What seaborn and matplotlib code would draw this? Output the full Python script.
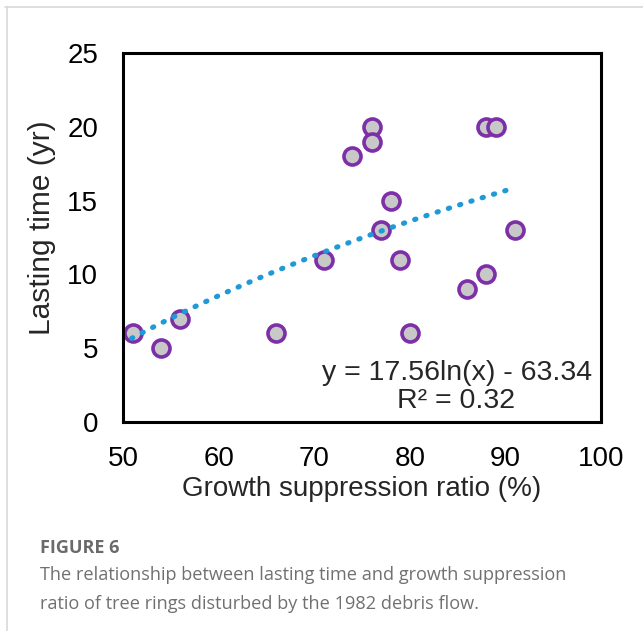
import numpy as np
import pandas as pd
import matplotlib.pyplot as plt
import seaborn as sns
from matplotlib.lines import Line2D

# valores
suppression = [51, 54, 56, 66, 71, 74, 76, 76, 77, 78, 79, 80, 86, 88, 88, 89, 91]
lasting = [6, 5, 7, 6, 11, 18, 20, 19, 13, 15, 11, 6, 9, 10, 20, 20, 13]
coef_a = 17.56
coef_b = -63.34
r2 = 0.32
xticks = [50, 60, 70, 80, 90, 100]
yticks = [0, 5, 10, 15, 20, 25]


def main():
    sns.set_style('white')
    plt.rcParams['font.family'] = ['Liberation Sans', 'DejaVu Sans']

    df = pd.DataFrame({'ratio': suppression, 'tempo': lasting})

    fig = plt.figure(figsize=(6.43, 6.31), dpi=100)
    ax = fig.add_axes([0.1913, 0.3312, 0.7434, 0.5848])

    # linha de tendencia logaritmica
    xt = np.linspace(min(suppression) - 0.1, 90.4, 200)
    yt = coef_a * np.log(xt) + coef_b
    ax.plot(xt, yt, color='#1f9ad6', lw=3.7, ls=(0, (0.25, 2.05)),
            dash_capstyle='round', zorder=3)

    sns.scatterplot(x='ratio', y='tempo', data=df, ax=ax, s=150,
                    color='#c8c8c8', edgecolor='#7d2fa8', linewidth=2.6,
                    zorder=2)

    ax.set_xlim(50, 100)
    ax.set_ylim(0, 25)
    ax.set_xticks(xticks)
    ax.set_yticks(yticks)
    ax.tick_params(direction='in', length=7, width=2, labelsize=20,
                   colors='black', pad=17)
    ax.tick_params(axis='y', pad=18)
    for sp in ax.spines.values():
        sp.set_linewidth(2.2)
        sp.set_color('black')
        sp.set_visible(True)

    ax.set_xlabel('Growth suppression ratio (%)', fontsize=20, labelpad=3)
    ax.set_ylabel('Lasting time (yr)', fontsize=21.5, labelpad=8)
    ax.yaxis.label.set_y(0.527)

    ax.text(0.698, 0.132, f'y = {coef_a:.2f}ln(x) - {abs(coef_b):.2f}',
            transform=ax.transAxes, ha='center', va='center', fontsize=20.5)
    ax.text(0.697, 0.057, f'R² = {r2:.2f}', transform=ax.transAxes,
            ha='center', va='center', fontsize=20.5)

    # moldura e legenda da figura
    fig.add_artist(Line2D([5 / 643, 1], [1 - 7 / 631, 1 - 7 / 631],
                          transform=fig.transFigure, color='#d9d9d9', lw=1.2))
    fig.add_artist(Line2D([7 / 643, 7 / 643], [0, 1 - 7 / 631],
                          transform=fig.transFigure, color='#d9d9d9', lw=1.2))
    fig.text(40 / 643, 1 - 548 / 631, 'FIGURE 6', fontsize=13,
             fontweight='bold', color='#6a6a6a', family='Open Sans',
             va='center')
    fig.text(40 / 643, 1 - 575 / 631,
             'The relationship between lasting time and growth suppression',
             fontsize=13.1, color='#707070', family='Open Sans', va='center')
    fig.text(40 / 643, 1 - 604 / 631,
             'ratio of tree rings disturbed by the 1982 debris flow.',
             fontsize=13.1, color='#707070', family='Open Sans', va='center')

    fig.savefig('out.png', dpi=100, facecolor='white')


if __name__ == "__main__":
    main()
